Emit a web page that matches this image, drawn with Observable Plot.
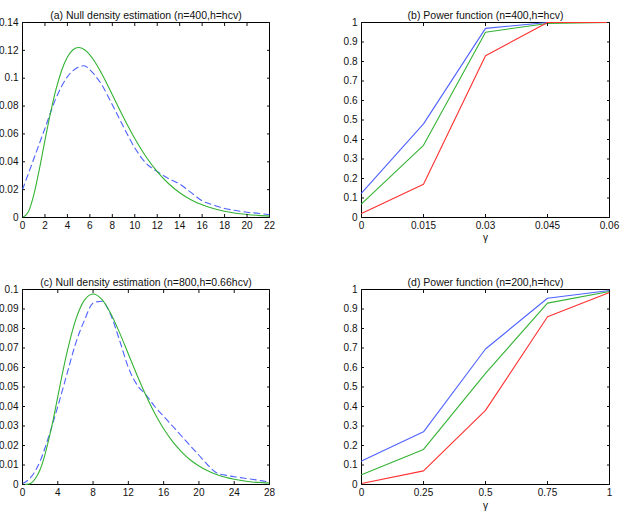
<!DOCTYPE html>
<html><head><meta charset="utf-8">
<script src="https://cdn.jsdelivr.net/npm/d3@7"></script>
<script src="https://cdn.jsdelivr.net/npm/@observablehq/plot@0.6"></script>
<style>
body{margin:0;background:#fff;}
#fig{position:relative;width:623px;height:513px;}
#fig svg{position:absolute;overflow:visible;}
</style></head><body><div id="fig"></div>
<script>
// ---- Panel (a): null density, n=400, h=hcv ----
const aTrueX = [0,0.5,1,1.5,2,2.5,3,3.5,4,4.5,5,5.5,6,6.5,7,8,9,10,11,12,13,14,15,16,17,18,19,20,21,22];
const aTrueY = [0,0.0037,0.0161,0.0346,0.0554,0.0753,0.0925,0.1059,0.1152,0.1204,0.1220,0.1206,0.1168,0.1111,0.1041,0.0882,0.0718,0.0567,0.0436,0.0329,0.0244,0.0178,0.0128,0.0091,0.0065,0.0045,0.0031,0.0022,0.0015,0.0010];
const aEstX = [0,1,2,3,4,5,5.5,6,7,8,9,10,11,12,13,14,15,16,17,18,19,20,21,22];
const aEstY = [0.020,0.042,0.064,0.086,0.101,0.108,0.109,0.106,0.096,0.081,0.065,0.050,0.039,0.033,0.028,0.024,0.018,0.012,0.009,0.0065,0.005,0.0038,0.003,0.002];
const aXTicks = [0,2,4,6,8,10,12,14,16,18,20,22];
const aYTicks = [0,0.02,0.04,0.06,0.08,0.1,0.12,0.14];

// ---- Panel (b): power function, n=400, h=hcv ----
const bGamma = [0,0.015,0.03,0.045,0.06];
const bBlue  = [0.125,0.48,0.97,1.0,1.0];
const bGreen = [0.07,0.37,0.95,0.995,1.0];
const bRed   = [0.02,0.17,0.83,1.0,1.0];
const bXTicks = [0,0.015,0.03,0.045,0.06];
const powYTicks = [0,0.1,0.2,0.3,0.4,0.5,0.6,0.7,0.8,0.9,1];

// ---- Panel (c): null density, n=800, h=0.66hcv ----
const cTrueX = [0,0.5,1,1.5,2,2.5,3,3.5,4,5,6,7,8,9,10,11,12,13,14,15,16,17,18,19,20,21,22,23,24,25,26,27,28];
const cTrueY = [0,0.00005,0.0008,0.0033,0.0077,0.0146,0.0235,0.0337,0.0451,0.0668,0.0840,0.0944,0.0977,0.0949,0.0877,0.0779,0.0669,0.0559,0.0456,0.0364,0.0286,0.0221,0.0169,0.0127,0.0095,0.0070,0.0051,0.0037,0.0027,0.0019,0.0013,0.0010,0.0007];
const cEstX = [0,1,2,3,4,5,6,7,8,9,10,11,12,13,14,15,16,17,18,19,20,21,22,23,24,25,26,27,28];
const cEstY = [0.0005,0.004,0.012,0.025,0.040,0.056,0.072,0.084,0.093,0.094,0.087,0.074,0.060,0.051,0.046,0.040,0.035,0.030,0.025,0.020,0.015,0.010,0.006,0.0048,0.004,0.0033,0.0027,0.002,0.0012];
const cXTicks = [0,4,8,12,16,20,24,28];
const cYTicks = [0,0.01,0.02,0.03,0.04,0.05,0.06,0.07,0.08,0.09,0.1];

// ---- Panel (d): power function, n=200, h=hcv ----
const dGamma = [0,0.25,0.5,0.75,1];
const dBlue  = [0.12,0.27,0.695,0.955,0.995];
const dGreen = [0.05,0.18,0.57,0.93,0.99];
const dRed   = [0.005,0.07,0.38,0.86,0.985];
const dXTicks = [0,0.25,0.5,0.75,1];

const titles = [
  "(a) Null density estimation (n=400,h=hcv)",
  "(b) Power function (n=400,h=hcv)",
  "(c) Null density estimation (n=800,h=0.66hcv)",
  "(d) Power function (n=200,h=hcv)"
];
const gammaLabel = "γ";

const BLUE = "#4f62ff", GREEN = "#34b234", RED = "#ff3030";
const fmt = d => String(+d.toFixed(4));
const pts = (xs, ys) => xs.map((x, i) => ({x, y: ys[i]}));

function panel(o) {
  const marks = [
    Plot.frame({stroke: "#000", strokeWidth: 1}),
    ...o.series.map(s => Plot.line(s.data, {x: "x", y: "y", stroke: s.color, strokeWidth: 1.1,
      strokeDasharray: s.dash, curve: s.curve || "linear"})),
    Plot.axisX(o.xTicks, {anchor: "bottom", tickSize: -3, tickPadding: 7, tickFormat: fmt, label: null}),
    Plot.axisX(o.xTicks, {anchor: "top", tickSize: -3, tickFormat: () => "", label: null}),
    Plot.axisY(o.yTicks, {anchor: "left", tickSize: -3, tickPadding: 7, tickFormat: fmt, label: null}),
    Plot.axisY(o.yTicks, {anchor: "right", tickSize: -3, tickFormat: () => "", label: null}),
    Plot.text([o.title], {frameAnchor: "top", dy: -11, fontSize: 10.5, fill: "#111"})
  ];
  if (o.xLabel) marks.push(Plot.text([o.xLabel], {frameAnchor: "bottom", dy: o.xLabelDy, fontSize: 10, lineAnchor: "top", fill: "#111"}));
  const svg = Plot.plot({
    width: o.width, height: o.height,
    marginLeft: o.ml, marginRight: o.mr, marginTop: o.mt, marginBottom: o.mb,
    style: {fontFamily: "'Liberation Sans', Arial, sans-serif", fontSize: "10px", color: "#111", background: "transparent"},
    x: {domain: o.xDomain, label: null},
    y: {domain: o.yDomain, label: null},
    marks
  });
  svg.style.left = o.left + "px";
  svg.style.top = o.top + "px";
  document.getElementById("fig").appendChild(svg);
}

const dashed = "6,4";
panel({left: 0, top: 0, width: 311, height: 250, ml: 22, mr: 42, mt: 22, mb: 33,
  xDomain: [0, 22], yDomain: [0, 0.14], xTicks: aXTicks, yTicks: aYTicks, title: titles[0],
  series: [
    {data: pts(aEstX, aEstY), color: BLUE, dash: dashed, curve: "monotone-x"},
    {data: pts(aTrueX, aTrueY), color: GREEN, curve: "monotone-x"}
  ]});
panel({left: 311, top: 0, width: 312, height: 250, ml: 50, mr: 14, mt: 22, mb: 33,
  xDomain: [0, 0.06], yDomain: [0, 1], xTicks: bXTicks, yTicks: powYTicks, title: titles[1],
  xLabel: gammaLabel, xLabelDy: 16,
  series: [
    {data: pts(bGamma, bBlue), color: BLUE},
    {data: pts(bGamma, bGreen), color: GREEN},
    {data: pts(bGamma, bRed), color: RED}
  ]});
panel({left: 0, top: 256, width: 311, height: 257, ml: 22, mr: 42, mt: 33, mb: 29,
  xDomain: [0, 28], yDomain: [0, 0.1], xTicks: cXTicks, yTicks: cYTicks, title: titles[2],
  series: [
    {data: pts(cEstX, cEstY), color: BLUE, dash: dashed, curve: "monotone-x"},
    {data: pts(cTrueX, cTrueY), color: GREEN, curve: "monotone-x"}
  ]});
panel({left: 311, top: 256, width: 312, height: 257, ml: 50, mr: 14, mt: 33, mb: 29,
  xDomain: [0, 1], yDomain: [0, 1], xTicks: dXTicks, yTicks: powYTicks, title: titles[3],
  xLabel: gammaLabel, xLabelDy: 17,
  series: [
    {data: pts(dGamma, dBlue), color: BLUE},
    {data: pts(dGamma, dGreen), color: GREEN},
    {data: pts(dGamma, dRed), color: RED}
  ]});
</script></body></html>
